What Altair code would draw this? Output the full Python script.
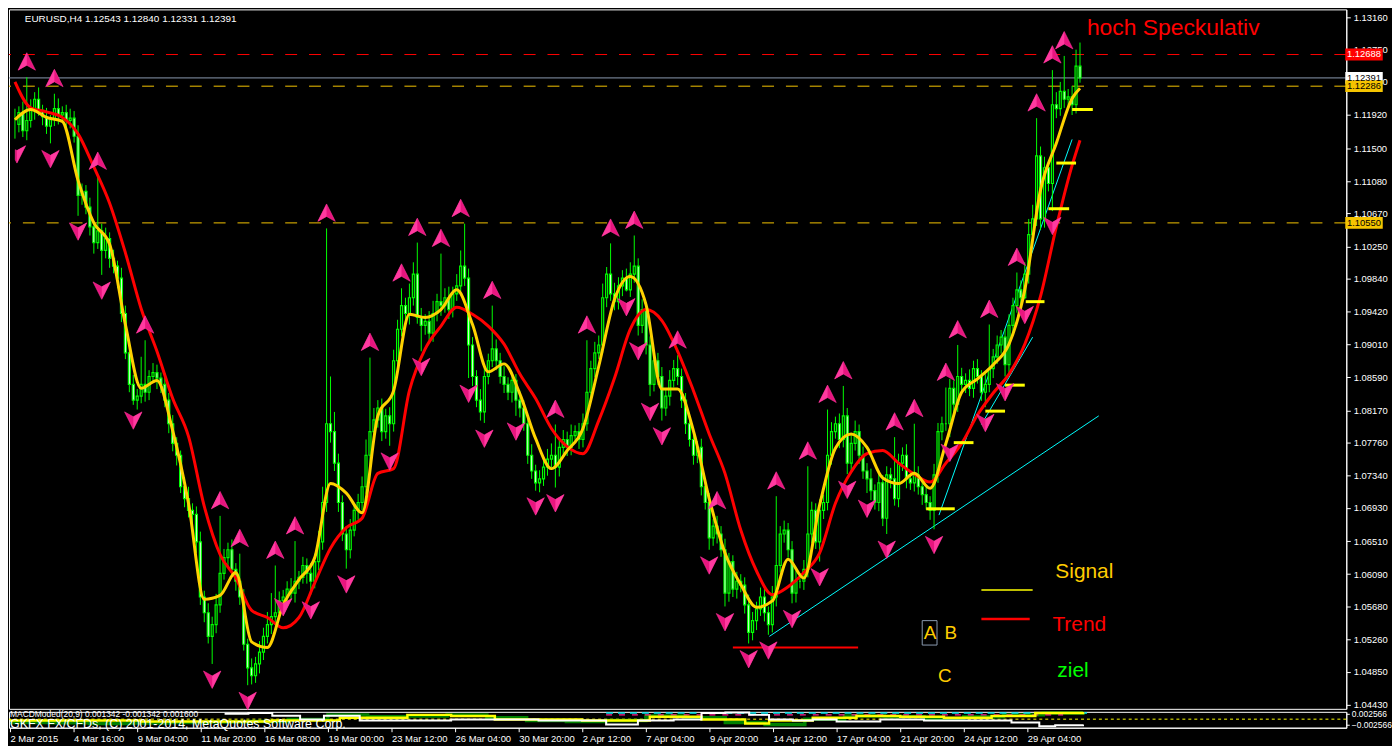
import altair as alt
import pandas as pd

# ---------------- price data (EURUSD H4, values in pips = price * 10000) -------------
first_open = 11190
close_pips = [
    11180, 11195, 11172, 11185, 11200, 11212, 11198, 11190, 11178, 11186, 11200, 11192, 11195, 11185, 11188, 11165,
    11090, 11095, 11075, 11050, 11030, 11045, 11020, 11035, 11010, 11000, 10985, 10940, 10890, 10850, 10830, 10835,
    10850, 10840, 10860, 10865, 10858, 10850, 10830, 10800, 10775, 10760, 10720, 10705, 10690, 10685, 10650, 10580,
    10560, 10530, 10545, 10570, 10610, 10630, 10640, 10615, 10600, 10580, 10520, 10490, 10480, 10495, 10510, 10530,
    10545, 10555, 10560, 10575, 10580, 10590, 10585, 10600, 10605, 10620, 10610, 10600, 10625, 10650, 10700, 10800,
    10790, 10750, 10700, 10660, 10640, 10665, 10690, 10700, 10720, 10760, 10790, 10805, 10820, 10790, 10810, 10800,
    10880, 10920, 10950, 10940, 10960, 10990, 10935, 10925, 10930, 10915, 10940, 10955, 10950, 10960, 10945, 10965,
    10975, 11000, 10985, 10900, 10860, 10830, 10815, 10860, 10880, 10895, 10880, 10860, 10850, 10840, 10855, 10830,
    10820, 10800, 10760, 10740, 10725, 10730, 10745, 10755, 10760, 10745, 10770, 10780, 10770, 10785, 10790, 10780,
    10800, 10840, 10870, 10890, 10900, 10960, 10990, 10965, 10955, 10975, 10985, 10970, 10990, 11000, 10925, 10945,
    10900, 10850, 10880, 10860, 10820, 10835, 10855, 10870, 10860, 10830, 10800, 10780, 10760, 10770, 10720, 10700,
    10655, 10670, 10660, 10640, 10585, 10625, 10590, 10600, 10595, 10570, 10535, 10550, 10565, 10580, 10560, 10545,
    10580, 10620, 10660, 10665, 10640, 10585, 10600, 10600, 10615, 10660, 10690, 10650, 10690, 10700, 10760, 10790,
    10800, 10780, 10810, 10750, 10775, 10790, 10760, 10740, 10730, 10715, 10700, 10725, 10680, 10735, 10730, 10705,
    10750, 10760, 10730, 10725, 10735, 10720, 10710, 10700, 10690, 10735, 10790, 10800, 10800, 10845, 10825, 10860,
    10850, 10855, 10845, 10870, 10860, 10840, 10850, 10870, 10885, 10900, 10910, 10875, 10925, 10950, 10970, 10960,
    10990, 11040, 11060, 11140, 11060, 11125, 11105, 11205, 11200, 11222, 11212, 11215, 11205, 11254, 11239,
]
wick_hi = [
    10, 8, 14, 55, 12, 9, 15, 7, 11, 6, 19, 13, 8, 10, 12, 9,
    14, 10, 8, 12, 6, 69, 9, 14, 8, 11, 7, 13, 10, 6, 12, 9,
    35, 56, 8, 12, 10, 7, 14, 9, 11, 8, 6, 12, 15, 9, 10, 13,
    8, 12, 10, 14, 73, 11, 9, 13, 8, 35, 10, 7, 12, 9, 14, 11,
    16, 30, 60, 12, 9, 10, 14, 51, 8, 11, 9, 13, 10, 14, 20, 248,
    60, 25, 12, 9, 10, 14, 8, 11, 13, 20, 94, 15, 10, 12, 9, 11,
    14, 12, 22, 10, 18, 15, 40, 12, 9, 13, 16, 10, 61, 12, 14, 9,
    15, 20, 54, 12, 10, 8, 14, 11, 9, 55, 12, 10, 13, 9, 11, 8,
    12, 10, 9, 14, 8, 11, 10, 13, 15, 39, 9, 12, 10, 14, 8, 11,
    13, 66, 10, 14, 12, 18, 9, 39, 14, 11, 10, 12, 15, 39, 10, 13,
    9, 11, 14, 10, 12, 8, 13, 11, 17, 10, 9, 12, 14, 8, 11, 10,
    12, 9, 13, 10, 14, 11, 8, 12, 9, 10, 13, 11, 9, 12, 10, 8,
    14, 88, 10, 12, 9, 11, 13, 10, 12, 86, 11, 9, 14, 10, 58, 12,
    9, 13, 38, 10, 12, 14, 9, 11, 10, 13, 8, 12, 10, 11, 9, 53,
    12, 10, 14, 9, 65, 11, 10, 12, 8, 14, 11, 9, 46, 12, 10, 40,
    11, 9, 14, 10, 12, 8, 13, 56, 10, 12, 9, 11, 14, 10, 22, 12,
    15, 20, 18, 48, 12, 14, 10, 44, 16, 12, 45, 10, 14, 21, 30,
]
wick_lo = [
    18, 10, 8, 12, 9, 14, 7, 11, 10, 22, 8, 12, 9, 13, 10, 8,
    26, 12, 9, 11, 14, 8, 31, 10, 12, 9, 13, 11, 8, 10, 6, 12,
    9, 12, 10, 8, 14, 11, 9, 12, 10, 13, 8, 11, 9, 12, 14, 10,
    12, 9, 35, 11, 10, 8, 13, 9, 12, 10, 8, 22, 11, 9, 12, 10,
    9, 12, 10, 8, 0, 11, 9, 12, 10, 8, 13, 17, 9, 11, 10, 12,
    14, 10, 12, 9, 24, 11, 8, 12, 10, 9, 13, 11, 10, 12, 9, 28,
    10, 12, 9, 11, 14, 10, 8, 33, 12, 9, 11, 10, 13, 9, 12, 10,
    9, 11, 10, 42, 12, 9, 11, 14, 10, 8, 12, 9, 11, 10, 13, 20,
    12, 9, 11, 10, 10, 12, 9, 11, 10, 26, 12, 9, 11, 10, 8, 12,
    10, 9, 12, 11, 8, 10, 12, 9, 11, 10, 13, 2, 9, 11, 13, 10,
    12, 15, 9, 11, 16, 10, 12, 9, 11, 10, 13, 9, 12, 10, 11, 9,
    15, 10, 12, 9, 17, 11, 10, 12, 9, 11, 14, 10, 12, 9, 11, 13,
    10, 12, 9, 11, 10, 13, 12, 9, 11, 10, 12, 9, 25, 11, 10, 12,
    9, 11, 10, 14, 12, 9, 11, 10, 18, 12, 9, 11, 10, 20, 12, 9,
    11, 10, 12, 9, 11, 10, 13, 9, 12, 24, 10, 11, 9, 17, 12, 10,
    9, 11, 10, 12, 9, 11, 19, 10, 12, 9, 11, 15, 10, 12, 9, 11,
    2, 12, 10, 9, 14, 11, 10, 35, 12, 9, 11, 10, 13, 11, 6,
]

# Signal (yellow) and Trend (red) lines, every 4 bars + last bar
line_idx = list(range(0, 269, 4)) + [270]
signal_pips = [
    11186, 11199, 11189, 11184, 11109, 11055, 11028, 10926, 10845, 10855, 10791, 10699, 10577, 10582, 10611, 10523,
    10516, 10570, 10602, 10630, 10724, 10712, 10687, 10810, 10842, 10939, 10935, 10945, 10970, 10926, 10866, 10876,
    10838, 10781, 10743, 10766, 10794, 10873, 10958, 10987, 10951, 10844, 10844, 10791, 10705, 10636, 10596, 10567,
    10575, 10628, 10604, 10697, 10769, 10787, 10770, 10731, 10724, 10737, 10718, 10775, 10840, 10857, 10875, 10901,
    10970, 11097, 11156, 11213, 11226,
]
trend_pips = [
    11234, 11201, 11196, 11189, 11168, 11126, 11080, 11017, 10946, 10892, 10832, 10784, 10695, 10634, 10604, 10563,
    10554, 10541, 10554, 10598, 10642, 10668, 10680, 10737, 10743, 10842, 10895, 10924, 10948, 10939, 10924, 10901,
    10863, 10832, 10794, 10771, 10762, 10804, 10858, 10920, 10945, 10931, 10892, 10842, 10787, 10737, 10665, 10613,
    10583, 10593, 10611, 10636, 10699, 10739, 10762, 10766, 10750, 10736, 10726, 10750, 10775, 10811, 10839, 10863,
    10901, 10962, 11050, 11128, 11160,
]

# fractal arrows (bar index, price in pips)
frac_up_idx = [3, 10, 21, 33, 52, 57, 66, 71, 79, 90, 98, 102, 108, 113, 121, 137, 145, 151, 157, 168, 178,
               193, 201, 206, 210, 223, 228, 236, 239, 247, 254, 259, 263, 266]
frac_up_pips = [11260, 11239, 11134, 10926, 10703, 10655, 10640, 10671, 11068, 10904, 10992, 11050, 11036, 11074,
                10970, 10819, 10926, 11049, 11059, 10907, 10703, 10728, 10766, 10838, 10868, 10803, 10820, 10866,
                10920, 10946, 11012, 11208, 11269, 11287]
frac_dn_idx = [9, 16, 22, 30, 50, 59, 68, 75, 84, 95, 103, 115, 119, 127, 132, 137, 155, 158, 161, 164, 176,
               180, 186, 191, 197, 204, 211, 216, 221, 233, 237, 246, 251, 256, 263]
frac_dn_pips = [11136, 11044, 10969, 10804, 10475, 10448, 10567, 10563, 10596, 10752, 10872, 10838, 10781,
                10790, 10695, 10699, 10948, 10892, 10815, 10784, 10620, 10548, 10501, 10512, 10552, 10605, 10716,
                10692, 10640, 10646, 10763, 10801, 10840, 10938, 11051]
# the arrow cut by the left border of the window
edge_dn_idx = [0.5]
edge_dn_pips = [11142]

# trend lines (cyan)
cyan_id = [1, 1, 2, 2, 3, 3]
cyan_idx = [191.25, 274.75, 234.25, 268.0, 245.0, 258.0]
cyan_pips = [10530, 10810, 10684, 11161, 10799, 10910]

# target levels ("ziel") short yellow bars
ziel_i1 = [231.0, 238.0, 246.0, 251.0, 256.25, 262.0, 264.0, 268.0]
ziel_i2 = [238.25, 243.0, 251.0, 256.0, 261.0, 267.25, 269.0, 273.25]
ziel_pips = [10692, 10776, 10816, 10849, 10955, 11073, 11131, 11199]

# horizontal price levels
level_prices = [1.12688, 1.12391, 1.12286, 1.10550]
level_colors = ["#ff0000", "#8a9ab0", "#f5c400", "#f5c400"]
level_dashed = [True, False, True, True]
box_fill = ["#ff0000", "#ffffff", "#f5c400", "#f5c400"]
box_text = ["#ffffff", "#000000", "#000000", "#000000"]

price_ticks = [1.13160, 1.12750, 1.12340, 1.11920, 1.11500, 1.11080, 1.10670, 1.10250, 1.09840, 1.09420,
               1.09010, 1.08590, 1.08170, 1.07760, 1.07340, 1.06930, 1.06510, 1.06090, 1.05680, 1.05260,
               1.04850, 1.04430]
tick_idx = list(range(0, 257, 16))
tick_labels = ["2 Mar 2015", "4 Mar 16:00", "9 Mar 04:00", "11 Mar 20:00", "16 Mar 08:00", "19 Mar 00:00",
               "23 Mar 12:00", "26 Mar 04:00", "30 Mar 20:00", "2 Apr 12:00", "7 Apr 04:00", "9 Apr 20:00",
               "14 Apr 12:00", "17 Apr 04:00", "21 Apr 20:00", "24 Apr 12:00", "29 Apr 04:00"]

# MACD sub-window
macd_white_idx = [54, 60, 66, 73, 79, 88, 100, 111, 122, 133, 150, 158, 167, 174, 180, 186, 191, 197, 202, 208,
                  219, 230, 235, 241, 252, 259, 263, 270]
macd_white = [0.0026, 0.0030, 0.0017, -0.0002, 0.0017, -0.0007, -0.0007, -0.0002, -0.0002, -0.0007, -0.0026,
              -0.0007, -0.0002, 0.0030, 0.0033, 0.0021, -0.0002, -0.0007, -0.0002, -0.0012, -0.0002, -0.0007,
              -0.0007, -0.0007, -0.0016, -0.0035, -0.0030, -0.0026]
macd_yellow_idx = [0, 33, 66, 83, 100, 111, 122, 144, 161, 174, 185, 191, 202, 213, 224, 235, 247, 258, 270]
macd_yellow = [-0.0007, -0.0012, -0.0007, 0.0007, 0.0021, 0.0016, -0.0002, -0.0007, 0.0012, -0.0002, -0.0021,
               -0.0007, 0.0007, 0.0016, 0.0012, 0.0007, 0.0016, 0.0030, 0.0035]
macd_green_idx = list(range(0, 271, 10))
macd_green = [-0.0016, -0.0018, -0.0021, -0.0019, -0.0016, -0.0014, -0.0012, -0.0002, 0.0021, 0.0012, 0.0016,
              0.0021, 0.0007, -0.0007, -0.0012, -0.0007, 0.0016, 0.0007, -0.0016, -0.0026, 0.0000, 0.0016,
              0.0012, 0.0002, 0.0012, 0.0021, 0.0030, 0.0035]

# ---------------- tables ----------------
P = lambda v: v / 10000.0
opens = [first_open] + close_pips[:-1]
rows = []
for k, (o, c, wh, wl) in enumerate(zip(opens, close_pips, wick_hi, wick_lo)):
    rows.append({"i": k, "o": P(o), "c": P(c), "h": P(max(o, c) + wh), "l": P(min(o, c) - wl),
                 "bull": c >= o})
candles = pd.DataFrame(rows)
lines = pd.DataFrame({"i": line_idx, "sig": [P(v) for v in signal_pips], "trd": [P(v) for v in trend_pips]})
fup = pd.DataFrame({"i": frac_up_idx, "p": [P(v) for v in frac_up_pips]})
fdn = pd.DataFrame({"i": frac_dn_idx, "p": [P(v) for v in frac_dn_pips]})
fedge = pd.DataFrame({"i": edge_dn_idx, "p": [P(v) for v in edge_dn_pips]})
cyan = pd.DataFrame({"g": cyan_id, "i": cyan_idx, "p": [P(v) for v in cyan_pips]})
ziel = pd.DataFrame({"i": ziel_i1, "i2": ziel_i2, "p": [P(v) for v in ziel_pips]})
levels = pd.DataFrame({"p": level_prices, "col": level_colors, "dashed": level_dashed,
                       "fill": box_fill, "tcol": box_text,
                       "lab": [f"{v:.5f}" for v in level_prices]})
levels["p_lo"] = levels["p"] - 0.00075
levels["p_hi"] = levels["p"] + 0.00075

FONT = "Liberation Sans"
W = 1346
H = 704
X_MAX = -0.25 + W / 4.0
levels["bx1"] = X_MAX + 1.0
levels["bx2"] = X_MAX + 10.5
levels["bxc"] = X_MAX + 5.75
xs = alt.Scale(domain=[-0.25, X_MAX], nice=False, zero=False)
ys = alt.Scale(domain=[1.0438, 1.13261], nice=False, zero=False)
yaxis = alt.Axis(orient="right", values=price_ticks, format=".5f", title=None, tickSize=4, labelPadding=3,
                 labelOverlap=False, labelFontSize=9.5, labelFont=FONT, labelColor="white", tickColor="white",
                 domainColor="white", grid=False, labelBound=False)


def X(f="i"):
    return alt.X(f"{f}:Q", scale=xs, axis=None)


def Y(f="p"):
    return alt.Y(f"{f}:Q", scale=ys, axis=yaxis)


layers = []
# horizontal levels
layers.append(alt.Chart(levels[levels["dashed"]]).mark_rule(strokeWidth=1, strokeDash=[12, 12]).encode(
    y=Y("p"), color=alt.Color("col:N", scale=None)))
layers.append(alt.Chart(levels[~levels["dashed"]]).mark_rule(strokeWidth=1).encode(
    y=Y("p"), color=alt.Color("col:N", scale=None)))
# cyan trend lines
layers.append(alt.Chart(cyan).mark_line(color="#00ffff", strokeWidth=1, clip=True).encode(
    x=X("i"), y=Y("p"), detail="g:N"))
# red support segment
seg = pd.DataFrame({"i": [182.0], "i2": [213.75], "p": [P(10516)]})
layers.append(alt.Chart(seg).mark_rule(color="#ff0000", strokeWidth=2).encode(x=X("i"), x2="i2", y=Y("p")))
# candles (MT4 "green on black": bull candle black, bear candle white)
cand = candles[candles["i"] >= 1]
layers.append(alt.Chart(cand).mark_rule(color="#00ff00", strokeWidth=1).encode(x=X("i"), y=Y("l"), y2="h"))
layers.append(alt.Chart(cand).mark_bar(size=2, stroke="#00ff00", strokeWidth=1.2).encode(
    x=X("i"), y=Y("o"), y2="c",
    fill=alt.condition("datum.bull", alt.value("#000000"), alt.value("#ffffff"))))
first = candles[candles["i"] == 0]
layers.append(alt.Chart(first).mark_rule(color="#00ff00", strokeWidth=1).encode(x=X("i"), y=Y("l"), y2="h"))
# trend and signal
layers.append(alt.Chart(lines).mark_line(color="#ff0000", strokeWidth=3, interpolate="monotone").encode(
    x=X("i"), y=Y("trd")))
layers.append(alt.Chart(lines).mark_line(color="#ffd200", strokeWidth=3, interpolate="monotone").encode(
    x=X("i"), y=Y("sig")))
# ziel bars
layers.append(alt.Chart(ziel).mark_rule(color="#ffff00", strokeWidth=3).encode(x=X("i"), x2="i2", y=Y("p")))
# fractal arrows
UP_FULL = "M0,-0.8 L0.8,0.8 L0,0.35 L-0.8,0.8 Z"
UP_HALF = "M0,-0.8 L0,0.35 L-0.8,0.8 Z"
DN_FULL = "M0,0.8 L0.8,-0.8 L0,-0.35 L-0.8,-0.8 Z"
DN_HALF = "M0,0.8 L0,-0.35 L0.8,-0.8 Z"
DN_CUT = "M0,0.8 L0.8,-0.8 L0,-0.35 L-0.15,-0.43 L-0.15,0.5 Z"
for df, full, half in [(fup, UP_FULL, UP_HALF), (fdn, DN_FULL, DN_HALF), (fedge, DN_CUT, DN_HALF)]:
    layers.append(alt.Chart(df).mark_point(shape=full, filled=True, size=480, color="#e8157f", opacity=1,
                                           stroke="#ff3399", strokeWidth=0.6).encode(x=X("i"), y=Y("p")))
    layers.append(alt.Chart(df).mark_point(shape=half, filled=True, size=480, color="#ff3aa0",
                                           opacity=1).encode(x=X("i"), y=Y("p")))

# legend drawings
leg = pd.DataFrame({"i": [245.0, 245.0], "i2": [258.0, 257.25], "p": [P(10589), P(10552)]})
layers.append(alt.Chart(leg.iloc[[0]]).mark_rule(color="#ffff00", strokeWidth=1.5).encode(
    x=X("i"), x2="i2", y=Y("p")))
layers.append(alt.Chart(leg.iloc[[1]]).mark_rule(color="#ff0000", strokeWidth=2.5).encode(
    x=X("i"), x2="i2", y=Y("p")))
abox = pd.DataFrame({"i": [230.0], "i2": [233.75], "p": [P(10519)], "p2": [P(10550)]})
layers.append(alt.Chart(abox).mark_rect(fill="#000000", stroke="#8a9ab0", strokeWidth=1).encode(
    x=X("i"), x2="i2", y=Y("p"), y2="p2"))

texts = pd.DataFrame({
    "i": [271.75, 263.75, 263.0, 264.25, 232.0, 237.25, 235.75],
    "p": [P(11303), P(10612), P(10545), P(10486), P(10534), P(10534), P(10480)],
    "t": ["hoch Speckulativ", "Signal", "Trend", "ziel", "A", "B", "C"],
    "col": ["#ff0000", "#ffcc00", "#ff0000", "#00ff00", "#ffcc00", "#ffcc00", "#ffcc00"],
    "size": [23, 21, 21, 21, 19, 19, 19],
    "al": ["left", "left", "left", "left", "center", "center", "center"],
})
for al in ["left", "center"]:
    sub = texts[texts["al"] == al]
    layers.append(alt.Chart(sub).mark_text(align=al, baseline="middle", font=FONT).encode(
        x=X("i"), y=Y("p"), text="t:N", color=alt.Color("col:N", scale=None),
        size=alt.Size("size:Q", scale=None)))

header = pd.DataFrame({"i": [2.5], "p": [P(11314)], "t": ["EURUSD,H4  1.12543 1.12840 1.12331 1.12391"]})
layers.append(alt.Chart(header).mark_text(align="left", baseline="middle", font=FONT, fontSize=10,
                                          color="white").encode(x=X("i"), y=Y("p"), text="t:N"))

# price boxes on the right axis
layers.append(alt.Chart(levels).mark_rect(clip=False).encode(
    x=X("bx1"), x2="bx2", y=Y("p_lo"), y2="p_hi", fill=alt.Fill("fill:N", scale=None)))
layers.append(alt.Chart(levels).mark_text(clip=False, font=FONT, fontSize=9.5, baseline="middle").encode(
    x=X("bxc"), y=Y("p"), text="lab:N", color=alt.Color("tcol:N", scale=None)))

main = alt.layer(*layers).properties(width=W, height=H)

# ---------------- MACD panel ----------------
ms = alt.Scale(domain=[-0.0042, 0.0036], nice=False, zero=False)
maxis = alt.Axis(orient="right", values=[0.002566, -0.002566], format=".6f", title=None, tickSize=3,
                 labelPadding=2, labelOverlap=False, labelFontSize=8.5, labelFont=FONT, labelColor="white",
                 tickColor="white", domainColor="white", grid=False, labelBound=False)
label_expr = "[" + ",".join(f"'{t}'" for t in tick_labels) + "][round(datum.value/16)]"
xaxis = alt.Axis(values=tick_idx, labelExpr=label_expr, title=None, tickSize=4, labelAlign="left",
                 labelPadding=2, labelFontSize=9.5, labelFont=FONT, labelColor="white", tickColor="white",
                 domainColor="white", grid=False, labelOverlap=False, labelBound=False, labelFlush=False)


def MX(f="i"):
    return alt.X(f"{f}:Q", scale=xs, axis=xaxis)


def MY(f="v"):
    return alt.Y(f"{f}:Q", scale=ms, axis=maxis)


mw = pd.DataFrame({"i": macd_white_idx, "v": macd_white})
my = pd.DataFrame({"i": macd_yellow_idx, "v": macd_yellow})
mg = pd.DataFrame({"i": macd_green_idx, "v": macd_green})
mc = pd.DataFrame({"i": [150, 271], "v": [0.0030, 0.0030]})
mp = pd.DataFrame({"i": [150, 265], "v": [0.0021, 0.0021]})
mz = pd.DataFrame({"v": [0.0]})
mtxt = pd.DataFrame({"i": [0.0, 0.0], "v": [0.0027, -0.0024],
                     "t": ["MACDModed(20,9) 0.001342 -0.001342 0.001600",
                           "GKFX FX/CFDs, (C) 2001-2014, MetaQuotes Software Corp."],
                     "size": [8.5, 12.5]})

mlayers = [
    alt.Chart(mz).mark_rule(color="#ffff00", strokeDash=[3, 3], strokeWidth=1).encode(y=MY("v")),
    alt.Chart(mg).mark_line(color="#008000", strokeWidth=3.5, interpolate="step-after").encode(x=MX(), y=MY()),
    alt.Chart(mc).mark_line(color="#00e5ee", strokeWidth=1.5, strokeDash=[7, 5]).encode(x=MX(), y=MY()),
    alt.Chart(mp).mark_line(color="#ff2090", strokeWidth=1.5, strokeDash=[6, 7]).encode(x=MX(), y=MY()),
    alt.Chart(my).mark_line(color="#ffff00", strokeWidth=2.5, interpolate="step-after").encode(x=MX(), y=MY()),
    alt.Chart(mw).mark_line(color="#ffffff", strokeWidth=2, interpolate="step-after").encode(x=MX(), y=MY()),
    alt.Chart(mtxt).mark_text(align="left", baseline="middle", font=FONT, color="white", clip=False).encode(
        x=MX(), y=MY(), text="t:N", size=alt.Size("size:Q", scale=None)),
]
macd = alt.layer(*mlayers).properties(width=W, height=16)

chart = alt.vconcat(main, macd, spacing=3, bounds="flush").properties(
    padding={"left": -6, "top": -2, "right": 0, "bottom": 0}).configure(
    background="#000000").configure_view(stroke="#ffffff", strokeWidth=1)

chart.save("out.html", embed_options={"renderer": "svg", "actions": False})
